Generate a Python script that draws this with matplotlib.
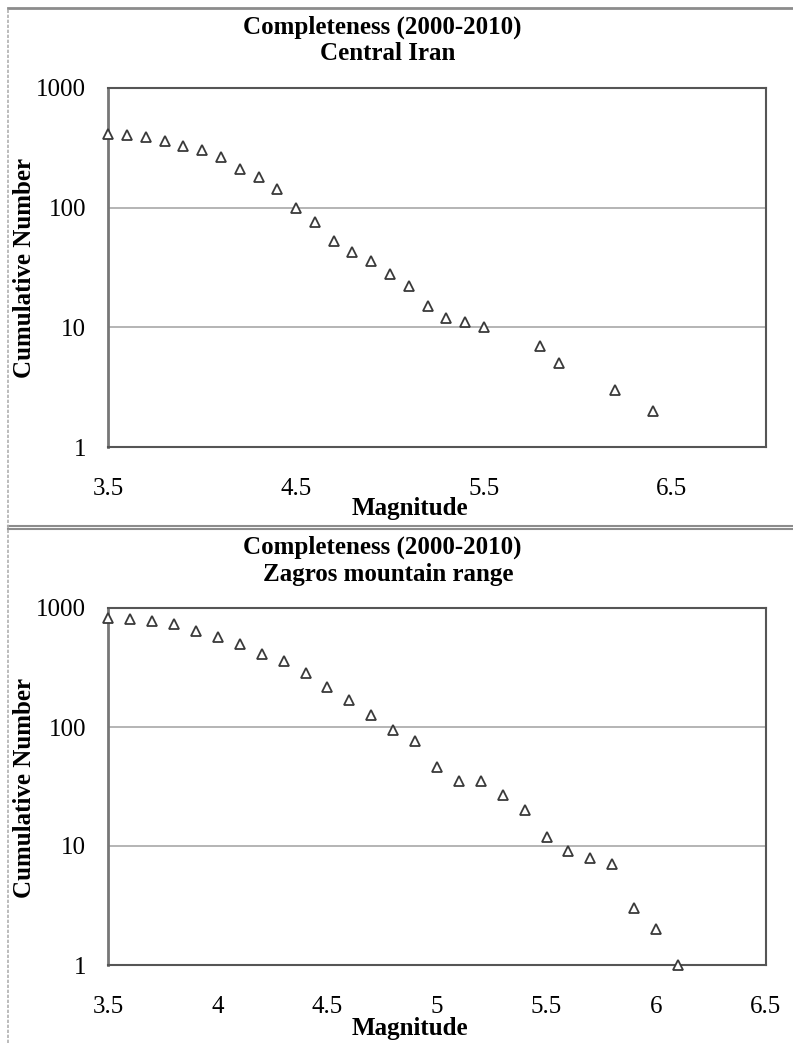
import numpy as np
import matplotlib
matplotlib.use('Agg')
import matplotlib.pyplot as plt
from matplotlib.lines import Line2D
from matplotlib.ticker import FixedLocator, FuncFormatter, NullLocator

plt.rcParams['font.family'] = ['Liberation Serif', 'DejaVu Serif']

# Central Iran
central_mag = [3.5, 3.6, 3.7, 3.8, 3.9, 4.0, 4.1, 4.2, 4.3, 4.4, 4.5, 4.6, 4.7,
               4.8, 4.9, 5.0, 5.1, 5.2, 5.3, 5.4, 5.5, 5.8, 5.9, 6.2, 6.4]
central_num = [414, 403, 388, 362, 327, 304, 265, 211, 182, 143, 100, 76, 53,
               43, 36, 28, 22, 15, 12, 11, 10, 7, 5, 3, 2]

# Zagros mountain range
zagros_mag = [3.5, 3.6, 3.7, 3.8, 3.9, 4.0, 4.1, 4.2, 4.3, 4.4, 4.5, 4.6, 4.7,
              4.8, 4.9, 5.0, 5.1, 5.2, 5.3, 5.4, 5.5, 5.6, 5.7, 5.8, 5.9, 6.0, 6.1]
zagros_num = [825, 809, 773, 735, 646, 568, 500, 413, 356, 286, 217, 170, 126,
              94, 77, 46, 35, 35, 27, 20, 12, 9, 8, 7, 3, 2, 1]

central_xticks = [3.5, 4.5, 5.5, 6.5]
zagros_xticks = [3.5, 4.0, 4.5, 5.0, 5.5, 6.0, 6.5]
yticks = [1, 10, 100, 1000]

W, H = 793, 1043
fig = plt.figure(figsize=(W / 100, H / 100), dpi=100)


def px(x0, y0, x1, y1):
    # pixel box (top-left origin) -> figure fraction rect
    return [x0 / W, 1 - y1 / H, (x1 - x0) / W, (y1 - y0) / H]


def hline(y, **kw):
    fig.add_artist(Line2D([8 / W, 1.0], [1 - y / H] * 2, transform=fig.transFigure, **kw))


fmt = FuncFormatter(lambda v, p: '%g' % v)


def panel(rect, mags, nums, xlim, xticks, title, off):
    ax = fig.add_axes(rect)
    ax.plot(mags, nums, linestyle='none', marker='^', ms=7.5, mfc='white',
            mec='#3a3a3a', mew=1.3, clip_on=False, zorder=5)
    ax.set_yscale('log')
    ax.set_ylim(1, 1000)
    ax.set_xlim(*xlim)
    ax.xaxis.set_major_locator(FixedLocator(xticks))
    ax.yaxis.set_major_locator(FixedLocator(yticks))
    ax.yaxis.set_minor_locator(NullLocator())
    ax.xaxis.set_major_formatter(fmt)
    ax.yaxis.set_major_formatter(fmt)
    ax.tick_params(axis='both', length=0, labelsize=18, colors='black')
    ax.tick_params(axis='y', pad=16)
    ax.tick_params(axis='x', pad=22)
    ax.yaxis.grid(True, color='#a8a8a8', lw=1.2)
    ax.set_axisbelow(True)
    for s in ax.spines.values():
        s.set_color('#555555')
        s.set_linewidth(1.5)
    ax.spines['left'].set_color('#777777')
    ax.spines['left'].set_linewidth(2)

    fig.text(382 / W, 1 - (27 + off) / H, title[0], ha='center', va='center',
             fontsize=18, fontweight='bold')
    fig.text(388 / W, 1 - (54 + off) / H, title[1], ha='center', va='center',
             fontsize=18, fontweight='bold')
    fig.text(410 / W, 1 - (508 + off) / H, 'Magnitude', ha='center', va='center',
             fontsize=18, fontweight='bold')
    fig.text(25 / W, 1 - ((88 + 447) / 2 + off) / H, 'Cumulative Number',
             ha='center', va='center', rotation=90, fontsize=18, fontweight='bold')
    return ax


panel(px(108.3, 88, 765.7, 447), central_mag, central_num, (3.5, 7.0),
      central_xticks, ('Completeness (2000-2010)', 'Central Iran'), 0)
panel(px(108.3, 608, 765.7, 965), zagros_mag, zagros_num, (3.5, 6.5),
      zagros_xticks, ('Completeness (2000-2010)', 'Zagros mountain range'), 520)

# outer chart-area borders
hline(7.5, color='#8c8c8c', lw=2)
hline(526, color='#8c8c8c', lw=1.5)
hline(528.5, color='#8c8c8c', lw=1.5)
fig.add_artist(Line2D([8 / W] * 2, [0, 1 - 7.5 / H], transform=fig.transFigure,
                      color='#b0b0b0', lw=1.2, linestyle=(0, (2, 1))))

fig.savefig('out.png', dpi=100, facecolor='white')
